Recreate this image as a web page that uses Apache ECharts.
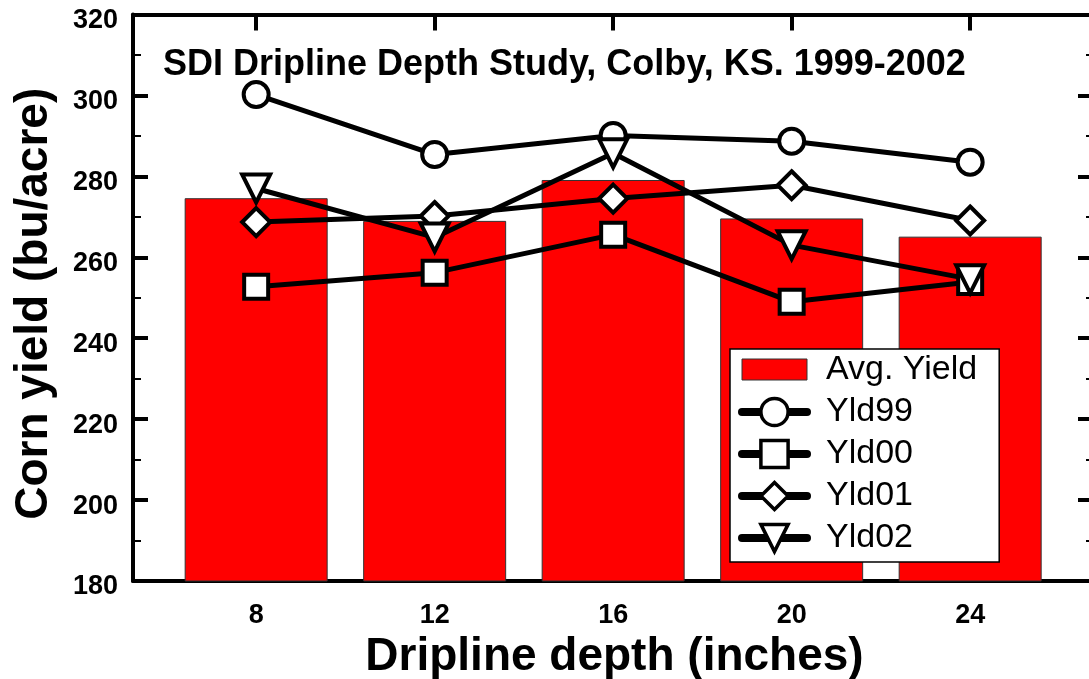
<!DOCTYPE html>
<html>
<head>
<meta charset="utf-8">
<script src="https://cdn.jsdelivr.net/npm/echarts@6/dist/echarts.min.js"></script>
<style>
html,body{margin:0;padding:0;background:#fff;}
#c{width:1089px;height:679px;}
</style>
</head>
<body>
<div id="c"></div>
<script>
// ---- data ----
const depths = [8, 12, 16, 20, 24];
const avgYield = [274.6, 269.0, 279.1, 269.6, 265.1];
const yld99 = [300.2, 285.4, 290.1, 288.7, 283.5];
const yld00 = [252.7, 256.2, 265.6, 249.0, 253.9];
const yld01 = [268.7, 270.2, 274.5, 277.8, 269.1];
const yld02 = [277.0, 264.9, 285.7, 263.0, 254.6];
const yTicks = [180, 200, 220, 240, 260, 280, 300, 320];
const seriesNames = ['Avg. Yield', 'Yld99', 'Yld00', 'Yld01', 'Yld02'];
const titleText = 'SDI Dripline Depth Study, Colby, KS. 1999-2002';
const xName = 'Dripline depth (inches)';
const yName = 'Corn yield (bu/acre)';

const FONT = "'Liberation Sans', Arial, Helvetica, sans-serif";
const pair = arr => depths.map((d, i) => [d, arr[i]]);

const lineSeries = (name, arr, symbol, size, rotate) => ({
  type: 'line', name: name, data: pair(arr), xAxisIndex: 0, yAxisIndex: 0,
  symbol: symbol, symbolSize: size, symbolRotate: rotate || 0,
  showAllSymbol: true,
  lineStyle: { color: '#000', width: 5 },
  itemStyle: { color: '#fff', borderColor: '#000', borderWidth: 4 },
  emphasis: { disabled: true },
  z: 3
});

const barStyle = { color: '#ff0000', borderColor: '#333', borderWidth: 1 };

const chart = echarts.init(document.getElementById('c'), null, { renderer: 'canvas' });
chart.setOption({
  animation: false,
  backgroundColor: '#fff',
  textStyle: { fontFamily: FONT },
  title: {
    text: titleText, left: 163, top: 47, padding: 0,
    textStyle: { fontFamily: FONT, fontSize: 36, fontWeight: 'bold', color: '#000' }
  },
  grid: { left: 133, top: 14.5, width: 963, height: 566.5, containLabel: false, outerBoundsMode: 'none' },
  xAxis: [{
    type: 'value', min: 5.24, max: 26.82, position: 'bottom',
    axisLine: { show: true, onZero: false, lineStyle: { color: '#000', width: 4 } },
    axisTick: { show: true, inside: true, length: 15, customValues: depths, lineStyle: { color: '#000', width: 4 } },
    axisLabel: { customValues: depths, fontFamily: FONT, fontSize: 27, fontWeight: 'bold', color: '#000', margin: 21 },
    splitLine: { show: false },
    name: xName, nameLocation: 'middle', nameGap: 36,
    nameTextStyle: { fontFamily: FONT, fontSize: 46, fontWeight: 'bold', color: '#000' }
  }, {
    type: 'value', min: 5.24, max: 26.82, position: 'top',
    axisLine: { show: true, onZero: false, lineStyle: { color: '#000', width: 4 } },
    axisTick: { show: true, inside: true, length: 16, customValues: depths, lineStyle: { color: '#000', width: 4 } },
    axisLabel: { show: false },
    splitLine: { show: false }
  }],
  yAxis: [{
    type: 'value', min: 180, max: 320, interval: 20, position: 'left',
    axisLine: { show: true, onZero: false, lineStyle: { color: '#000', width: 4 } },
    axisTick: { show: true, inside: true, length: 15, lineStyle: { color: '#000', width: 4 } },
    minorTick: { show: true, splitNumber: 2, length: 8, lineStyle: { color: '#000', width: 2 } },
    axisLabel: { customValues: yTicks, fontFamily: FONT, fontSize: 27, fontWeight: 'bold', color: '#000', margin: 15, verticalAlign: 'top', lineHeight: 12 },
    splitLine: { show: false },
    name: yName, nameLocation: 'middle', nameGap: 76,
    nameTextStyle: { fontFamily: FONT, fontSize: 46, fontWeight: 'bold', color: '#000', padding: [0, 12, 0, 0] }
  }, {
    type: 'value', min: 180, max: 320, interval: 20, position: 'right',
    axisLine: { show: true, onZero: false, lineStyle: { color: '#000', width: 4 } },
    axisTick: { show: true, inside: true, length: 18, lineStyle: { color: '#000', width: 4 } },
    minorTick: { show: true, splitNumber: 2, length: 10, lineStyle: { color: '#000', width: 2 } },
    axisLabel: { show: false },
    splitLine: { show: false }
  }],
  legend: {
    orient: 'vertical', left: 730, top: 349,
    padding: [3, 22, 7, 8],
    itemWidth: 65, itemHeight: 34, itemGap: 8,
    backgroundColor: '#fff', borderColor: '#000', borderWidth: 1.5, borderRadius: 0,
    selectedMode: false,
    textStyle: { fontFamily: FONT, fontSize: 34, color: '#000', padding: [0, 0, 0, 14] },
    lineStyle: { width: 8, cap: 'round', color: '#000' },
    itemStyle: { color: '#fff', borderColor: '#000', borderWidth: 3.5 },
    data: [
      { name: seriesNames[0], icon: 'path://M0,0 M0,6.5 L65,6.5 L65,27.5 L0,27.5 Z M65,34', itemStyle: barStyle },
      seriesNames[1], seriesNames[2], seriesNames[3], seriesNames[4]
    ],
    z: 10
  },
  series: [{
    type: 'bar', name: seriesNames[0], data: pair(avgYield), xAxisIndex: 0, yAxisIndex: 0,
    barWidth: 143,
    itemStyle: barStyle,
    emphasis: { disabled: true },
    z: 2
  },
    lineSeries(seriesNames[1], yld99, 'circle', 25),
    lineSeries(seriesNames[2], yld00, 'rect', 24),
    lineSeries(seriesNames[3], yld01, 'diamond', 28),
    lineSeries(seriesNames[4], yld02, 'triangle', 28, 180)
  ]
});
</script>
</body>
</html>
